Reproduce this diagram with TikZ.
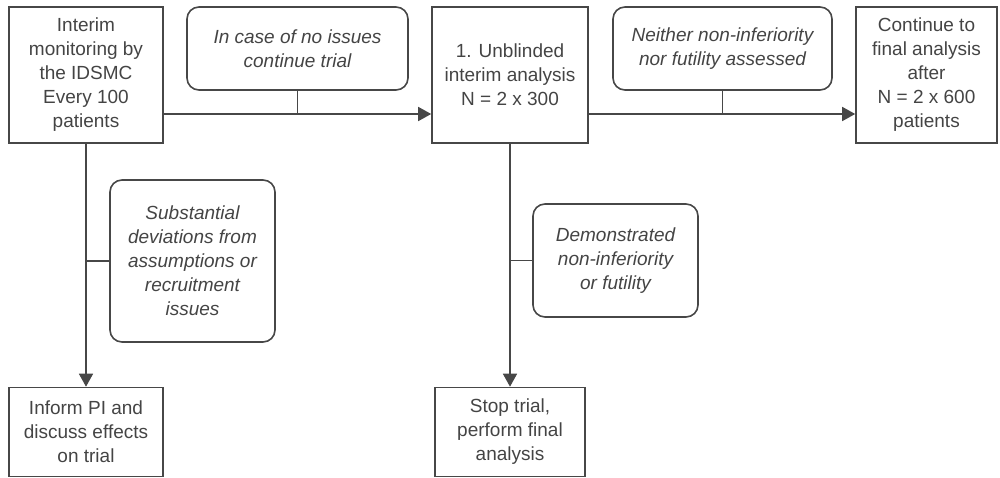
\documentclass[tikz,border=0pt]{standalone}
\usepackage{fontspec}
\setmainfont{Liberation Sans}
\usetikzlibrary{arrows.meta}
\definecolor{ln}{HTML}{474747}
\definecolor{tx}{HTML}{444444}
\begin{document}
\begin{tikzpicture}[x=1pt,y=-1pt,
  base/.style={draw=ln, line width=1.6pt, text=tx, align=center, inner sep=0pt,
     font=\fontsize{19}{24}\selectfont},
  sqbox/.style={base},
  rbox/.style={base, rounded corners=12pt, font=\fontsize{19}{24}\selectfont\itshape},
  conn/.style={draw=ln, line width=1.6pt},
  arr/.style={conn, -{Triangle[length=13pt,width=14pt]}}]
\useasboundingbox (0,0) rectangle (1000,478);
\node[sqbox, minimum width=154pt, minimum height=136pt] (A) at (86,75)
  {Interim\\monitoring by\\the IDSMC\\Every 100\\patients};
\node[rbox, minimum width=221pt, minimum height=83pt] (L1) at (297.5,48.5)
  {In case of no issues\\continue trial};
\node[sqbox, minimum width=156pt, minimum height=136pt] (B) at (510,75)
  {1. Unblinded\\interim analysis\\N = 2 x 300};
\node[rbox, minimum width=219pt, minimum height=83pt] (L2) at (722.5,48.5)
  {Neither non-inferiority\\nor futility assessed};
\node[sqbox, minimum width=141pt, minimum height=136pt] (C) at (926.5,75)
  {Continue to\\final analysis\\after\\N = 2 x 600\\patients};
\node[rbox, minimum width=165pt, minimum height=162pt] (L3) at (192.5,261)
  {Substantial\\deviations from\\assumptions or\\recruitment\\issues};
\node[sqbox, minimum width=154pt, minimum height=89pt] (D) at (86,432)
  {Inform PI and\\discuss effects\\on trial};
\node[rbox, minimum width=165pt, minimum height=113pt] (L4) at (615.5,260.5)
  {Demonstrated\\non-inferiority\\or futility};
\node[sqbox, minimum width=150pt, minimum height=89pt] (E) at (510,432)
  {Stop trial,\\perform final\\analysis};
\coordinate (row) at (0,114);
\draw[arr] (A.east |- row) -- (B.west |- row);
\draw[conn] (L1.south) -- (L1.south |- row);
\draw[arr] (B.east |- row) -- (C.west |- row);
\draw[conn] (L2.south) -- (L2.south |- row);
\draw[arr] (A.south) -- (D.north);
\draw[conn] (L3.west) -- (L3.west -| A.south);
\draw[arr] (B.south) -- (E.north);
\draw[conn] (L4.west) -- (L4.west -| B.south);
\end{tikzpicture}
\end{document}
